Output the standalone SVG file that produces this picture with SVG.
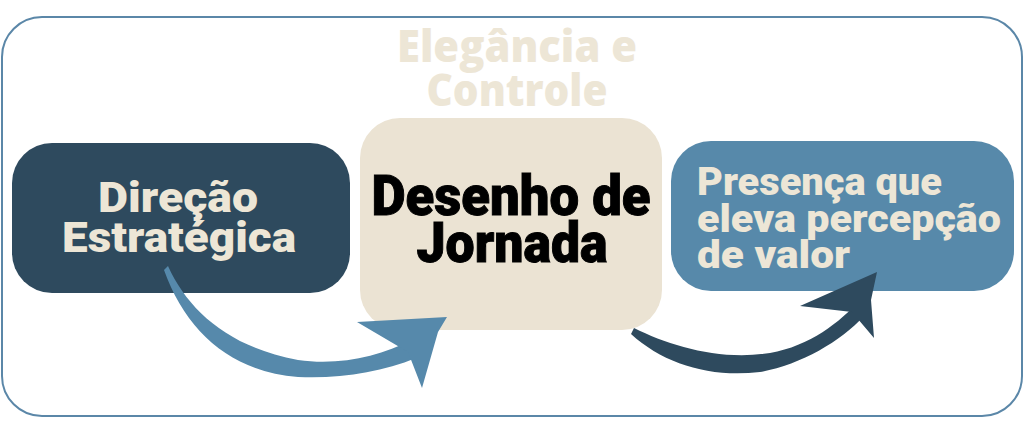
<svg xmlns="http://www.w3.org/2000/svg" width="1024" height="436" viewBox="0 0 1024 436">
<style>
.lt{font-family:"Roboto","Liberation Sans",sans-serif;font-weight:900;fill:#ede6d6}
.dk{font-family:"Roboto","Liberation Sans",sans-serif;font-weight:900;fill:#000;stroke:#000;stroke-width:1}
.top{font-family:"Open Sans","Liberation Sans",sans-serif;font-weight:800;fill:#ede6d6}
</style>
<rect width="1024" height="436" fill="#ffffff"/>
<rect id="frame" x="2" y="17" width="1020" height="399" rx="40" fill="none" stroke="#5b87a8" stroke-width="2"/>
<g id="title">
<text class="top" x="517" y="62" font-size="44" text-anchor="middle" textLength="240" lengthAdjust="spacingAndGlyphs">Elegância e</text>
<text class="top" x="517" y="106" font-size="44" text-anchor="middle" textLength="181" lengthAdjust="spacingAndGlyphs">Controle</text>
</g>
<g id="node-direcao">
<rect x="12" y="143" width="338" height="150" rx="40" fill="#2e4a5e"/>
<text class="lt" x="178" y="212" font-size="43" text-anchor="middle" textLength="160" lengthAdjust="spacingAndGlyphs">Direção</text>
<text class="lt" x="179" y="252" font-size="43" text-anchor="middle" textLength="234" lengthAdjust="spacingAndGlyphs">Estratégica</text>
</g>
<g id="node-desenho">
<rect x="360" y="118" width="302" height="212" rx="40" fill="#ebe3d3"/>
<text class="dk" x="511" y="215" font-size="56" text-anchor="middle" textLength="279" lengthAdjust="spacingAndGlyphs">Desenho de</text>
<text class="dk" x="512" y="262" font-size="56" text-anchor="middle" textLength="191" lengthAdjust="spacingAndGlyphs">Jornada</text>
</g>
<g id="node-presenca">
<rect x="671" y="141" width="343" height="150" rx="40" fill="#5789aa"/>
<text class="lt" x="697" y="195" font-size="39" textLength="245" lengthAdjust="spacingAndGlyphs">Presença que</text>
<text class="lt" x="697" y="232" font-size="39" textLength="304" lengthAdjust="spacingAndGlyphs">eleva percepção</text>
<text class="lt" x="697" y="268" font-size="39" textLength="153" lengthAdjust="spacingAndGlyphs">de valor</text>
</g>
<g id="connectors">
<g fill="#5689ab">
<path d="M168,266 C188,310 228,347 298,360 C340,366 380,356 412,340 L416,358 C382,372 340,379 298,377 C232,372 186,332 164,270 Z"/>
<path d="M357,322 L447,317 L438,332 L422,388 L408,352 Z"/>
</g>
<g fill="#2e4a5e">
<path d="M634,328 C670,346 720,361 770,353 C810,346 840,322 860,300 L864,316 C840,342 800,365 760,372 C710,378 664,364 631,334 Z"/>
<path d="M800,306 L877,272 L871,300 L874,338 L852,312 Z"/>
</g>
</g>
</svg>
